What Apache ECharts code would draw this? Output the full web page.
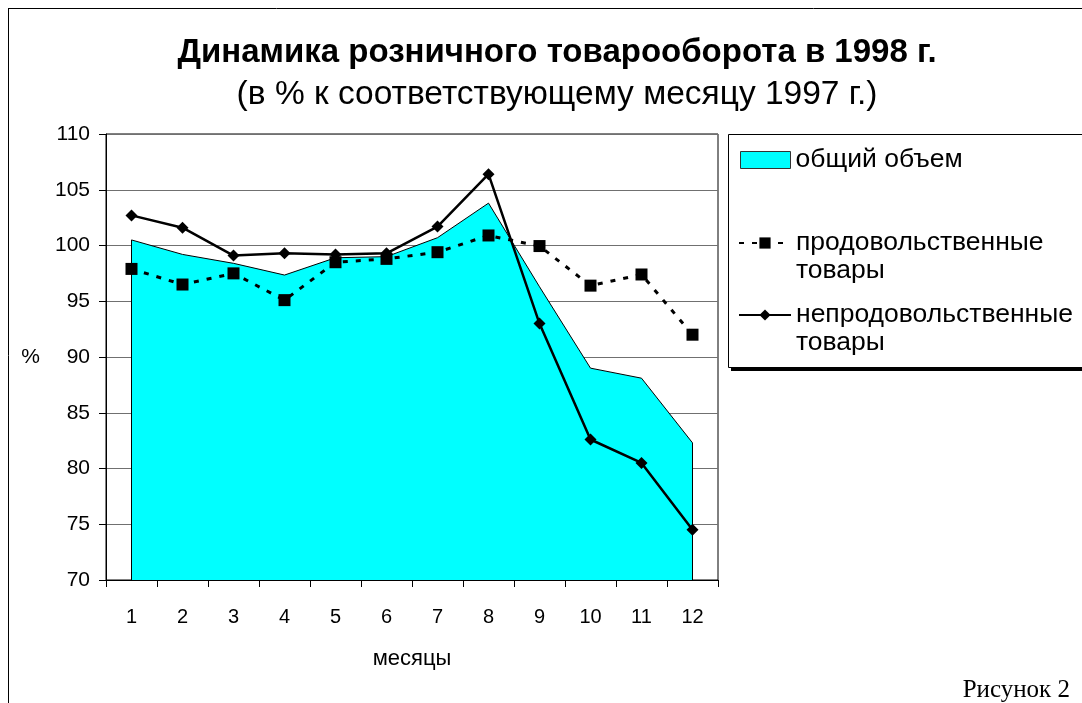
<!DOCTYPE html>
<html>
<head>
<meta charset="utf-8">
<script src="https://cdn.jsdelivr.net/npm/echarts@6/dist/echarts.min.js"></script>
<style>html,body{margin:0;padding:0;background:#fff}#c{width:1082px;height:703px}</style>
</head>
<body>
<div id="c"></div>
<script>
const months = ['1','2','3','4','5','6','7','8','9','10','11','12'];
const totalVolume = [100.5, 99.2, 98.4, 97.35, 98.9, 99.0, 100.7, 103.8, 96.3, 89.0, 88.1, 82.3];
const foodGoods = [97.9, 96.5, 97.5, 95.1, 98.5, 98.8, 99.4, 100.9, 99.95, 96.4, 97.4, 92.0];
const nonFoodGoods = [102.7, 101.6, 99.1, 99.3, 99.2, 99.3, 101.7, 106.4, 93.0, 82.6, 80.5, 74.5];
const yTicks = {min: 70, max: 110, interval: 5};
const names = ['общий объем', 'продовольственные\nтовары', 'непродовольственные\nтовары'];

const chart = echarts.init(document.getElementById('c'), null, {renderer: 'canvas'});
const F = '"Liberation Sans", Arial, sans-serif';
const legendText = {fontFamily: F, fontSize: 26.5, color: '#000', lineHeight: 28};
const firstLineAligned = function (n) { return ' \n' + n; };
chart.setOption({
  backgroundColor: '#fff',
  animation: false,
  title: [
    {text: 'Динамика розничного товарооборота в 1998 г.', left: 552, top: 31, textAlign: 'center',
     textStyle: {fontFamily: F, fontSize: 33, fontWeight: 'bold', color: '#000'}},
    {text: '(в % к соответствующему месяцу 1997 г.)', left: 552, top: 73, textAlign: 'center',
     textStyle: {fontFamily: F, fontSize: 33.5, fontWeight: 'normal', color: '#000'}}
  ],
  graphic: [
    {type: 'line', shape: {x1: 8.5, y1: 8, x2: 8.5, y2: 703}, style: {stroke: '#000', lineWidth: 1}},
    {type: 'line', shape: {x1: 8, y1: 8.5, x2: 1082, y2: 8.5}, style: {stroke: '#000', lineWidth: 1}},
    {type: 'rect', shape: {x: 731, y: 137, width: 400, height: 234}, style: {fill: '#000'}, z: -1},
    {type: 'rect', shape: {x: 728.5, y: 134.5, width: 400, height: 233}, style: {fill: '#fff', stroke: '#000', lineWidth: 1}, z: 0},
    {type: 'text', right: 12, top: 678, style: {text: 'Рисунок 2', font: '25px "Liberation Serif", "Times New Roman", serif', fill: '#000'}}
  ],
  legend: [
    {data: [{name: names[0], icon: 'rect'}], left: 740, top: 146, padding: 0, itemWidth: 50, itemHeight: 17, textStyle: legendText,
     itemStyle: {color: '#00FFFF', borderColor: '#333', borderWidth: 1}, selectedMode: false},
    {data: [names[1]], left: 738, top: 201, padding: 0, itemWidth: 52, itemHeight: 14, textStyle: legendText,
     formatter: firstLineAligned, selectedMode: false},
    {data: [names[2]], left: 738, top: 273, padding: 0, itemWidth: 52, itemHeight: 14, textStyle: legendText,
     formatter: firstLineAligned, selectedMode: false}
  ],
  grid: {left: 106, right: 364, top: 134, bottom: 123, show: true, borderColor: '#000', borderWidth: 1, backgroundColor: 'transparent'},
  xAxis: {
    type: 'category', data: months, boundaryGap: true,
    name: 'месяцы', nameLocation: 'middle', nameGap: 68,
    nameTextStyle: {fontFamily: F, fontSize: 22, color: '#000'},
    axisLine: {lineStyle: {color: '#000', width: 1}},
    axisTick: {show: true, interval: 0, length: 7, lineStyle: {color: '#000'}},
    axisLabel: {fontFamily: F, fontSize: 20, color: '#000', margin: 27, interval: 0},
    splitLine: {show: false}
  },
  yAxis: {
    type: 'value', min: yTicks.min, max: yTicks.max, interval: yTicks.interval,
    name: '%', nameLocation: 'middle', nameGap: 66, nameRotate: 0,
    nameTextStyle: {fontFamily: F, fontSize: 21, color: '#000'},
    axisLine: {show: true, lineStyle: {color: '#000', width: 1}},
    axisTick: {show: true, length: 7, lineStyle: {color: '#000'}},
    axisLabel: {fontFamily: F, fontSize: 21, color: '#000', margin: 16},
    splitLine: {show: true, lineStyle: {color: '#707070', width: 1}}
  },
  series: [
    {name: names[0], type: 'line', data: totalVolume, symbol: 'none', z: 1,
     lineStyle: {color: '#000', width: 1}, itemStyle: {color: '#00FFFF'},
     areaStyle: {color: '#00FFFF', opacity: 1, origin: 'start'},
     markLine: {silent: true, symbol: 'none', label: {show: false}, lineStyle: {color: '#000', width: 1, type: 'solid'},
       data: [
         [{coord: [months[0], yTicks.min]}, {coord: [months[0], totalVolume[0]]}],
         [{coord: [months[11], yTicks.min]}, {coord: [months[11], totalVolume[11]]}]
       ]}},
    {name: names[1], type: 'line', data: foodGoods, symbol: 'rect', symbolSize: 12, z: 3,
     lineStyle: {color: '#000', width: 3, type: [5, 8]}, itemStyle: {color: '#000'}},
    {name: names[2], type: 'line', data: nonFoodGoods, symbol: 'diamond', symbolSize: 12, z: 4,
     lineStyle: {color: '#000', width: 2.5}, itemStyle: {color: '#000'}}
  ]
});
</script>
</body>
</html>
